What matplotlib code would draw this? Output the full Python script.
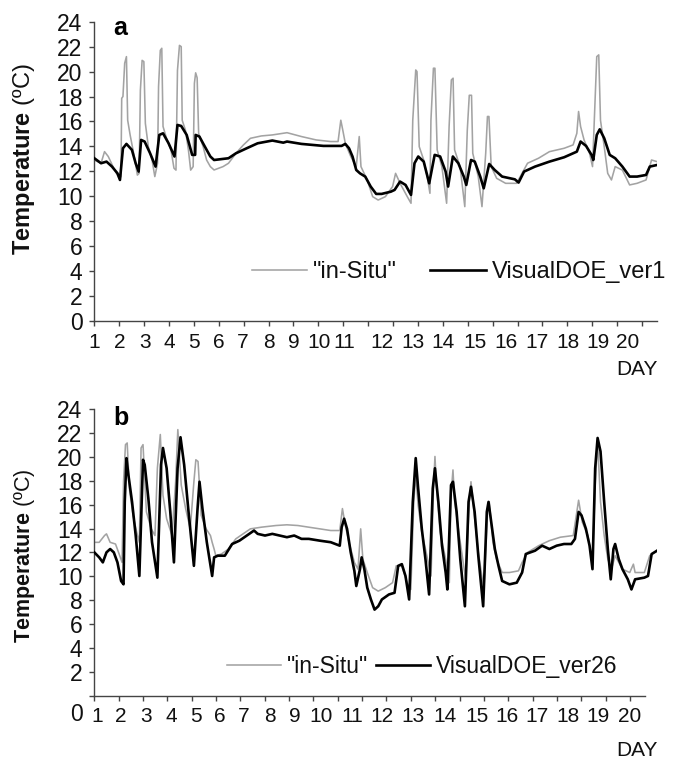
import matplotlib.pyplot as plt
from matplotlib.transforms import ScaledTranslation

plt.rcParams["font.family"] = ["Liberation Sans", "DejaVu Sans"]
plt.rcParams["mathtext.fontset"] = "custom"
plt.rcParams["mathtext.rm"] = "Liberation Sans"
plt.rcParams["mathtext.bf"] = "Liberation Sans:bold"

# valeurs (x = position en graduations, 1 graduation = 1 jour)
insitu_a_day = [1.00, 1.27, 1.41, 1.56, 1.78, 2.00, 2.07, 2.10, 2.15, 2.22, 2.29, 2.34, 2.44, 2.58,
                2.73, 2.80, 2.85, 2.92, 2.99, 3.05, 3.17, 3.32, 3.43, 3.54, 3.58, 3.65, 3.71, 3.76,
                3.90, 4.08, 4.20, 4.28, 4.34, 4.42, 4.49, 4.53, 4.66, 4.78, 4.87, 4.97, 5.02, 5.07,
                5.13, 5.19, 5.37, 5.51, 5.66, 5.81, 6.17, 6.39, 6.69, 6.98, 7.27, 7.71, 8.15, 8.74,
                9.32, 9.91, 10.49, 10.79, 10.90, 10.98, 11.08, 11.30, 11.52, 11.64, 11.71, 11.96,
                12.18, 12.40, 12.69, 12.98, 13.10, 13.28, 13.57, 13.72, 13.79, 13.91, 13.96, 14.05,
                14.23, 14.37, 14.48, 14.52, 14.62, 14.68, 14.77, 14.96, 15.15, 15.25, 15.34, 15.41,
                15.47, 15.69, 15.88, 15.98, 16.06, 16.15, 16.20, 16.42, 16.57, 16.72, 16.79, 16.85,
                16.94, 17.16, 17.52, 17.96, 18.18, 18.40, 18.84, 19.28, 19.87, 20.23, 20.38, 20.45,
                20.53, 20.67, 20.89, 21.01, 21.11, 21.18, 21.26, 21.33, 21.48, 21.62, 21.77, 21.92,
                22.21, 22.50, 22.80, 23.16, 23.38, 23.60]
insitu_a_temp = [12.9, 12.65, 13.58, 13.19, 12.25, 11.44, 11.58, 17.86, 18.0, 20.67, 21.2, 16.1, 14.9, 13.45,
                 11.7, 11.84, 18.5, 20.9, 20.8, 15.85, 13.98, 12.9, 11.58, 12.65, 18.8, 21.7, 21.87, 15.6,
                 14.65, 13.7, 12.25, 12.1, 20.1, 22.1, 22.0, 16.1, 15.3, 13.7, 12.1, 12.38, 19.06, 19.9,
                 19.5, 15.05, 13.98, 12.91, 12.38, 12.11, 12.38, 12.65, 13.45, 14.1, 14.65, 14.84, 14.92, 15.1,
                 14.79, 14.52, 14.39, 14.39, 16.1, 15.3, 14.25, 13.19, 12.38, 14.79, 12.38, 11.31,
                 9.97, 9.7, 9.97, 10.78, 11.84, 11.04, 9.97, 9.44, 16.1, 20.13, 20.0, 13.98,
                 12.91, 11.58, 10.24, 16.1, 20.27, 20.27, 13.72, 12.38, 9.44, 15.6, 19.33, 19.47,
                 13.72, 12.38, 9.17, 15.3, 18.1, 18.1, 13.45, 11.58, 9.17, 13.45, 16.4, 16.4,
                 12.38, 11.44, 11.04, 11.04, 11.84, 12.65, 13.05, 13.58, 13.85, 14.12, 15.05, 16.8,
                 15.6, 14.52, 13.45, 12.38, 17.5, 21.2, 21.34, 16.1, 13.98, 11.84, 11.31, 12.38,
                 12.1, 10.91, 11.04, 11.31, 12.91, 12.78]

ver1_day = [1.00, 1.27, 1.49, 1.71, 1.93, 2.03, 2.15, 2.29, 2.51, 2.66, 2.78, 2.88, 3.02, 3.24,
            3.46, 3.61, 3.76, 3.98, 4.22, 4.34, 4.49, 4.71, 4.93, 5.05, 5.07, 5.22, 5.44, 5.66,
            5.81, 6.39, 6.69, 7.12, 7.56, 8.15, 8.59, 8.74, 9.32, 10.20, 10.93, 11.08, 11.23,
            11.37, 11.52, 11.67, 11.88, 12.10, 12.32, 12.54, 12.91, 13.06, 13.28, 13.50, 13.72,
            13.86, 14.01, 14.23, 14.45, 14.67, 14.89, 15.11, 15.21, 15.40, 15.62, 15.84, 15.94,
            16.13, 16.28, 16.50, 16.64, 16.86, 17.08, 17.38, 17.89, 18.04, 18.26, 18.70, 19.28,
            19.87, 20.38, 20.53, 20.75, 20.97, 21.04, 21.18, 21.30, 21.48, 21.70, 21.92, 22.21,
            22.50, 22.80, 23.16, 23.31, 23.60]
ver1_temp = [13.05, 12.65, 12.78, 12.38, 11.84, 11.31, 13.85, 14.20, 13.72, 12.65, 11.98, 14.52, 14.39, 13.45,
             12.38, 14.92, 15.05, 14.26, 13.19, 15.72, 15.64, 14.92, 13.32, 13.32, 14.92, 14.79, 13.98, 13.19,
             12.91, 13.05, 13.45, 13.85, 14.25, 14.47, 14.30, 14.39, 14.20, 14.04, 14.04, 14.20, 13.85,
             13.19, 12.11, 11.84, 11.58, 10.78, 10.19, 10.19, 10.37, 10.51, 11.18, 10.91, 10.11,
             12.65, 13.19, 12.78, 11.04, 13.32, 13.19, 11.98, 10.78, 13.19, 12.65, 11.58, 10.91,
             12.91, 12.78, 11.58, 10.64, 12.59, 12.11, 11.58, 11.36, 11.10, 11.98, 12.38, 12.78,
             13.13, 13.58, 14.39, 14.04, 13.32, 12.91, 14.92, 15.37, 14.65, 13.32, 13.05, 12.38,
             11.58, 11.58, 11.71, 12.38, 12.51]

insitu_b_day = [1.00, 1.20, 1.42, 1.50, 1.65, 1.87, 2.02, 2.14, 2.20, 2.28, 2.35, 2.44, 2.59, 2.74,
                2.85, 2.92, 3.00, 3.14, 3.34, 3.49, 3.59, 3.71, 3.82, 3.97, 4.19, 4.34, 4.43, 4.57,
                4.75, 4.94, 5.09, 5.17, 5.26, 5.39, 5.59, 5.77, 5.84, 5.92, 5.99, 6.22, 6.51, 6.81,
                7.11, 7.41, 7.86, 8.46, 8.91, 9.36, 9.81, 10.26, 10.71, 11.08, 11.19, 11.31, 11.46,
                11.68, 11.83, 11.94, 12.03, 12.21, 12.43, 12.66, 12.95, 13.25, 13.40, 13.63, 13.85,
                14.00, 14.12, 14.20, 14.30, 14.45, 14.60, 14.83, 14.93, 14.99, 15.05, 15.20, 15.43,
                15.58, 15.65, 15.73, 15.80, 16.03, 16.25, 16.40, 16.47, 16.62, 16.77, 17.00, 17.15,
                17.22, 17.37, 17.52, 17.75, 18.05, 18.42, 18.57, 18.80, 19.25, 19.69, 20.14, 20.67,
                20.89, 21.04, 21.27, 21.46, 21.57, 21.67, 21.79, 21.94, 22.09, 22.24, 22.39, 22.69,
                22.99, 23.14, 23.21, 23.59, 23.81, 24.11]
insitu_b_temp = [12.85, 12.85, 13.42, 13.56, 12.85, 12.71, 11.87, 11.17, 17.93, 21.04, 21.18, 17.37, 15.11, 13.70,
                 12.85, 20.76, 21.04, 15.40, 13.98, 13.42, 19.06, 21.89, 16.80, 14.83, 13.42, 17.93, 22.30, 17.65,
                 15.68, 13.98, 17.93, 19.77, 19.63, 15.11, 13.98, 13.42, 12.85, 12.29, 11.73, 11.87, 12.29, 13.14,
                 13.56, 13.98, 14.12, 14.26, 14.32, 14.26, 14.12, 13.98, 13.84, 13.84, 15.68, 14.26, 12.85,
                 11.17, 10.60, 13.98, 11.44, 10.32, 9.05, 8.76, 9.05, 9.47, 10.88, 10.88, 9.47,
                 8.90, 16.24, 18.50, 15.96, 13.70, 12.29, 10.03, 17.37, 20.05, 17.65, 13.70, 11.44,
                 9.47, 16.80, 18.92, 16.24, 12.85, 9.75, 16.24, 17.93, 14.83, 12.01, 8.90, 15.40,
                 16.24, 12.85, 11.44, 10.32, 10.32, 10.46, 11.17, 12.01, 12.57, 12.99, 13.28, 13.42,
                 16.38, 14.55, 13.42, 11.17, 17.65, 21.32, 16.24, 13.42, 11.44, 10.60, 11.73, 10.60,
                 10.32, 11.02, 10.32, 10.32, 11.73, 12.15]

ver26_day = [1.00, 1.20, 1.35, 1.50, 1.65, 1.80, 1.95, 2.10, 2.20, 2.25, 2.32, 2.40, 2.55, 2.70,
             2.85, 3.00, 3.07, 3.22, 3.37, 3.59, 3.74, 3.82, 3.97, 4.12, 4.27, 4.42, 4.54, 4.69,
             4.87, 5.09, 5.24, 5.32, 5.44, 5.62, 5.84, 5.92, 6.07, 6.36, 6.66, 6.96, 7.26, 7.56,
             7.71, 8.01, 8.31, 8.61, 8.91, 9.21, 9.51, 9.81, 10.26, 10.71, 11.08, 11.16, 11.26,
             11.38, 11.53, 11.68, 11.76, 11.91, 11.98, 12.09, 12.21, 12.36, 12.51, 12.66, 12.81,
             13.10, 13.33, 13.48, 13.63, 13.78, 13.93, 14.08, 14.20, 14.30, 14.45, 14.60, 14.75,
             14.90, 14.99, 15.13, 15.28, 15.43, 15.50, 15.65, 15.73, 15.88, 16.03, 16.22, 16.37,
             16.47, 16.62, 16.77, 16.97, 17.12, 17.19, 17.30, 17.45, 17.60, 17.75, 18.05, 18.35,
             18.57, 18.72, 19.10, 19.39, 19.69, 19.99, 20.29, 20.59, 20.74, 20.89, 21.01, 21.19,
             21.34, 21.46, 21.57, 21.67, 21.79, 21.94, 22.09, 22.21, 22.32, 22.39, 22.54, 22.69,
             22.91, 23.06, 23.21, 23.59, 23.74, 23.89, 24.11]
ver26_temp = [12.01, 11.59, 11.17, 12.01, 12.29, 12.01, 11.17, 9.61, 9.33, 16.24, 19.91, 18.50, 16.24, 13.42,
              10.03, 19.77, 19.35, 16.52, 12.86, 9.89, 19.35, 20.76, 19.06, 15.40, 11.17, 19.06, 21.66, 19.35,
              15.40, 10.88, 15.68, 17.93, 15.68, 12.86, 10.03, 11.59, 11.73, 11.73, 12.71, 12.99, 13.42, 13.84,
              13.56, 13.42, 13.56, 13.42, 13.28, 13.42, 13.14, 13.14, 12.99, 12.86, 12.57, 14.12, 14.83,
              13.98, 12.01, 10.46, 9.19, 10.60, 11.59, 10.60, 9.05, 8.06, 7.21, 7.49, 8.06,
              8.48, 8.62, 10.88, 11.02, 10.03, 8.06, 16.24, 19.91, 17.37, 13.98, 11.44, 8.48,
              17.37, 19.06, 16.24, 12.57, 10.32, 8.90, 17.65, 17.93, 15.40, 11.44, 7.49, 16.24,
              17.51, 15.40, 11.73, 7.49, 15.40, 16.24, 14.55, 12.29, 10.88, 9.61, 9.33, 9.47,
              10.32, 11.87, 12.15, 12.57, 12.29, 12.57, 12.71, 12.71, 13.14, 15.40, 15.11, 13.98,
              12.57, 10.60, 19.06, 21.60, 20.47, 16.24, 12.29, 9.75, 12.29, 12.71, 11.44, 10.60,
              9.75, 8.90, 9.75, 9.89, 10.03, 11.87, 12.15]

day_labels = [str(d) for d in range(1, 21)]
temp_ticks = list(range(0, 25, 2))

# position des étiquettes de jours (elles ne tombent pas pile sur les graduations)
label_pos_a = [1.0, 2.03, 3.04, 4.0, 5.0, 6.01, 6.97, 8.02, 9.02, 10.02, 11.03, 12.55,
               13.79, 14.99, 16.28, 17.52, 18.77, 20.02, 21.22, 22.43]
label_pos_b = [1.11, 2.10, 3.12, 4.15, 5.18, 6.16, 7.15, 8.22, 9.25, 10.31, 11.58, 12.82,
               14.09, 15.40, 16.71, 17.94, 19.17, 20.45, 21.68, 23.0]

GRAY = "#a3a3a3"
AXC = "#444444"


def draw_panel(fig, rect, xmax, day_g, temp_g, day_k, temp_k, name_k, label_pos, leg_anchor, colsp, fs_leg, fs_ylab, ylab_y):
    ax = fig.add_axes(rect)
    ax.plot(day_g, temp_g, color=GRAY, lw=1.15, label='"in-Situ"', zorder=2)
    ax.plot(day_k, temp_k, color="black", lw=1.9, label=name_k, zorder=3)

    ax.set_xlim(1, xmax)
    ax.set_ylim(0, 24)
    for s in ["top", "right"]:
        ax.spines[s].set_visible(False)
    for s in ["left", "bottom"]:
        ax.spines[s].set_color(AXC)
        ax.spines[s].set_linewidth(1.0)
    ax.spines["bottom"].set_bounds(1, 23.6)

    ax.xaxis.remove_overlapping_locs = False
    ax.set_xticks(range(1, 24))
    ax.set_xticklabels([])
    ax.set_xticks(label_pos, labels=day_labels, minor=True)
    ax.tick_params(axis="x", which="major", length=3.5, width=1.0, color=AXC, direction="out")
    ax.tick_params(axis="x", which="minor", length=0, pad=8.5, labelsize=15, labelcolor="#111111")

    ax.set_yticks(temp_ticks)
    ax.set_yticklabels([str(t) for t in temp_ticks])
    ax.tick_params(axis="y", length=3.5, width=1.0, color=AXC, pad=5, labelsize=16.5, labelcolor="#111111")

    ax.set_ylabel(r"$\mathbf{Temperature}$ (ºC)", fontsize=fs_ylab, color="#111111")
    ax.yaxis.set_label_coords(-0.102, ylab_y)

    ax.legend(loc="center left", bbox_to_anchor=leg_anchor, frameon=False, ncol=2,
              fontsize=fs_leg, handlelength=2.35, handletextpad=0.25, columnspacing=colsp,
              borderpad=0, borderaxespad=0, labelcolor="#111111")
    return ax


def main():
    fig = plt.figure(figsize=(6.94, 7.59), dpi=100)

    draw_panel(fig, [0.1359, 0.5771, 0.8108, 0.3943], 23.6,
               insitu_a_day, insitu_a_temp, ver1_day, ver1_temp, "VisualDOE_ver1",
               label_pos_a, (0.28, 0.164), 1.4, 17, 17, 0.54)
    ax_b = draw_panel(fig, [0.1359, 0.0835, 0.8108, 0.3772], 24.11,
                      insitu_b_day, insitu_b_temp, ver26_day, ver26_temp, "VisualDOE_ver26",
                      label_pos_b, (0.236, 0.10), 0.35, 16.5, 15.5, 0.49)

    # le "0" du panneau b est décalé vers le bas dans l'original
    zero = ax_b.get_yticklabels()[0]
    zero.set_transform(zero.get_transform() + ScaledTranslation(0, -0.16, fig.dpi_scale_trans))

    fig.text(113 / 694, 1 - 35 / 759, "a", fontsize=18, fontweight="bold", va="baseline")
    fig.text(113 / 694, 1 - 425 / 759, "b", fontsize=18, fontweight="bold", va="baseline")
    fig.text(658 / 694, 1 - 369 / 759, "DAY", fontsize=15, ha="right", va="center", color="#111111")
    fig.text(658 / 694, 1 - 750 / 759, "DAY", fontsize=15, ha="right", va="center", color="#111111")

    fig.savefig("out.png", dpi=100)
    plt.close(fig)


if __name__ == "__main__":
    main()
